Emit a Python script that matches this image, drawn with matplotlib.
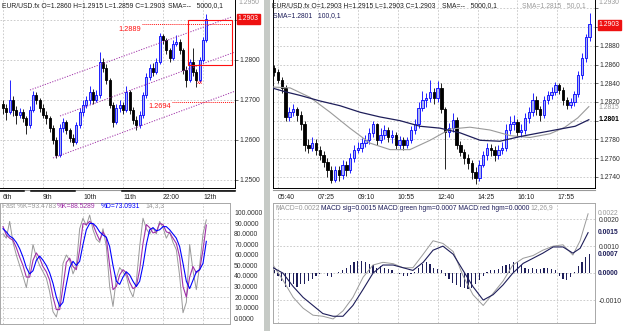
import numpy as np
import matplotlib
matplotlib.use("Agg")
import matplotlib.pyplot as plt
from matplotlib.patches import Rectangle
from matplotlib.lines import Line2D
import matplotlib.transforms as mtransforms

plt.rcParams['font.family'] = ['Liberation Sans', 'DejaVu Sans']
plt.rcParams['font.size'] = 4.9

# ---------------- left chart : hourly EUR/USD + stochastic ----------------
left_first_open = 1.2690
left_close = [1.2680, 1.2670, 1.2700, 1.2675, 1.2663, 1.2670, 1.2655, 1.2638, 1.2675, 1.2713,
              1.2700, 1.2680, 1.2663, 1.2655, 1.2630, 1.2600, 1.2563, 1.2630, 1.2645, 1.2625,
              1.2605, 1.2595, 1.2638, 1.2670, 1.2688, 1.2700, 1.2720, 1.2700, 1.2713, 1.2795,
              1.2780, 1.2750, 1.2688, 1.2645, 1.2680, 1.2688, 1.2675, 1.2720, 1.2675, 1.2650,
              1.2638, 1.2663, 1.2713, 1.2758, 1.2780, 1.2770, 1.2795, 1.2860, 1.2850, 1.2825,
              1.2805, 1.2840, 1.2845, 1.2825, 1.2775, 1.2750, 1.2795, 1.2770, 1.2750, 1.2800,
              1.2850, 1.2903]
left_high = [1.2700, 1.2690, 1.2750, 1.2710, 1.2685, 1.2680, 1.2678, 1.2660, 1.2685, 1.2722,
             1.2720, 1.2705, 1.2690, 1.2672, 1.2660, 1.2638, 1.2608, 1.2640, 1.2655, 1.2650,
             1.2630, 1.2615, 1.2645, 1.2680, 1.2700, 1.2710, 1.2735, 1.2728, 1.2725, 1.2820,
             1.2805, 1.2790, 1.2755, 1.2695, 1.2690, 1.2700, 1.2695, 1.2735, 1.2725, 1.2682,
             1.2660, 1.2672, 1.2720, 1.2768, 1.2790, 1.2792, 1.2805, 1.2868, 1.2866, 1.2855,
             1.2830, 1.2850, 1.2862, 1.2852, 1.2830, 1.2785, 1.2802, 1.2830, 1.2778, 1.2808,
             1.2858, 1.2915]
left_low = [1.2665, 1.2650, 1.2665, 1.2660, 1.2640, 1.2655, 1.2645, 1.2615, 1.2630, 1.2670,
            1.2690, 1.2670, 1.2655, 1.2640, 1.2620, 1.2590, 1.2555, 1.2558, 1.2620, 1.2615,
            1.2595, 1.2585, 1.2590, 1.2630, 1.2660, 1.2680, 1.2690, 1.2690, 1.2695, 1.2705,
            1.2770, 1.2740, 1.2680, 1.2632, 1.2640, 1.2670, 1.2665, 1.2670, 1.2665, 1.2640,
            1.2625, 1.2630, 1.2655, 1.2705, 1.2750, 1.2760, 1.2765, 1.2790, 1.2840, 1.2815,
            1.2795, 1.2800, 1.2835, 1.2815, 1.2765, 1.2733, 1.2745, 1.2760, 1.2733, 1.2745,
            1.2795, 1.2845]
left_ticks = [0, 12, 24, 36, 48, 60]
left_ticklabels = ['6th', '9th', '10th', '11th', '22:00', '12th']
left_price_ticks = [1.25, 1.26, 1.27, 1.28, 1.29]

# trend channel (start index, start price, end index, end price)
channel_lines = [(8.1, 1.2725, 68.7, 1.2908),
                 (17.1, 1.2660, 69.6, 1.2820),
                 (15.0, 1.2555, 69.6, 1.2722)]
level_lines = [(1.2889, 41.7, '1.2889'), (1.2696, 50.7, '1.2694')]
box_x = (55.5, 68.7)
box_y = (1.27875, 1.2900)

stoch_fast = [80, 76, 92, 72, 60, 50, 40, 29, 48, 70, 58, 50, 44, 38, 25, 6, 1, 15, 52, 60,
              55, 42, 50, 85, 95, 88, 98, 84, 75, 72, 85, 68, 30, 11, 38, 48, 44, 40, 27, 20,
              35, 68, 95, 85, 80, 86, 80, 92, 86, 76, 82, 72, 65, 40, 5, 15, 70, 45, 27, 50,
              80, 93.5]
stoch_k = [87, 79, 76, 74, 67, 58, 50, 39, 39, 55, 62, 57, 49, 44, 36, 20, 8, 8, 30, 53,
           57, 49, 46, 65, 90, 89, 92, 89, 81, 74, 82, 76, 50, 27, 30, 41, 46, 43, 34, 28,
           30, 46, 71, 89, 86, 81, 82, 90, 89, 82, 81, 76, 71, 58, 30, 20, 39, 49, 43, 46,
           65, 88.5]
stoch_d = [85, 82, 78, 76, 72, 66, 58, 48, 42, 45, 55, 59, 55, 50, 43, 33, 20, 11, 15, 32,
           48, 54, 50, 54, 70, 84, 90, 90, 87, 82, 79, 77, 68, 50, 35, 32, 39, 44, 41, 35,
           30, 35, 50, 70, 84, 86, 83, 84, 87, 87, 84, 80, 76, 68, 52, 35, 28, 36, 44, 46,
           52, 73]

# ---------------- right chart : intraday EUR/USD + MACD ----------------
right_first_open = 1.2856
right_close = [1.2852, 1.2844, 1.2835, 1.2804, 1.2809, 1.2812, 1.2806, 1.2796, 1.2774, 1.2771,
               1.2776, 1.2769, 1.2763, 1.2756, 1.2747, 1.2737, 1.2747, 1.2742, 1.2753, 1.2747,
               1.2760, 1.2769, 1.2771, 1.2776, 1.2779, 1.2787, 1.2796, 1.2779, 1.2785, 1.2790,
               1.2782, 1.2785, 1.2774, 1.2779, 1.2774, 1.2779, 1.2790, 1.2796, 1.2814, 1.2822,
               1.2824, 1.2831, 1.2824, 1.2835, 1.2812, 1.2788, 1.2792, 1.2801, 1.2774, 1.2767,
               1.2760, 1.2755, 1.2745, 1.2739, 1.2753, 1.2763, 1.2771, 1.2769, 1.2763, 1.2769,
               1.2771, 1.2790, 1.2796, 1.2799, 1.2788, 1.2790, 1.2803, 1.2809, 1.2822, 1.2812,
               1.2806, 1.2822, 1.2827, 1.2831, 1.2838, 1.2833, 1.2822, 1.2817, 1.2820, 1.2828,
               1.2849, 1.2867, 1.2889, 1.2903]
right_high = [1.2860, 1.2855, 1.2847, 1.2838, 1.2815, 1.2818, 1.2815, 1.2810, 1.2800, 1.2780,
              1.2782, 1.2780, 1.2773, 1.2768, 1.2760, 1.2752, 1.2752, 1.2751, 1.2758, 1.2757,
              1.2765, 1.2774, 1.2777, 1.2781, 1.2785, 1.2792, 1.2800, 1.2798, 1.2792, 1.2795,
              1.2793, 1.2790, 1.2788, 1.2784, 1.2782, 1.2783, 1.2794, 1.2802, 1.2820, 1.2832,
              1.2830, 1.2843, 1.2835, 1.2842, 1.2840, 1.2815, 1.2798, 1.2808, 1.2804, 1.2778,
              1.2770, 1.2764, 1.2758, 1.2750, 1.2758, 1.2768, 1.2776, 1.2775, 1.2773, 1.2774,
              1.2777, 1.2796, 1.2805, 1.2806, 1.2802, 1.2796, 1.2808, 1.2815, 1.2830, 1.2826,
              1.2816, 1.2826, 1.2832, 1.2836, 1.2841, 1.2840, 1.2836, 1.2825, 1.2824, 1.2832,
              1.2853, 1.2872, 1.2893, 1.2915]
right_low = [1.2848, 1.2840, 1.2830, 1.2800, 1.2800, 1.2805, 1.2800, 1.2790, 1.2768, 1.2765,
             1.2768, 1.2763, 1.2758, 1.2750, 1.2740, 1.2733, 1.2734, 1.2736, 1.2738, 1.2741,
             1.2744, 1.2756, 1.2765, 1.2767, 1.2772, 1.2775, 1.2783, 1.2774, 1.2776, 1.2780,
             1.2777, 1.2776, 1.2770, 1.2770, 1.2769, 1.2771, 1.2776, 1.2786, 1.2792, 1.2810,
             1.2815, 1.2820, 1.2818, 1.2820, 1.2808, 1.2748, 1.2782, 1.2788, 1.2770, 1.2762,
             1.2754, 1.2748, 1.2738, 1.2732, 1.2736, 1.2750, 1.2758, 1.2762, 1.2757, 1.2759,
             1.2764, 1.2768, 1.2786, 1.2790, 1.2782, 1.2783, 1.2786, 1.2798, 1.2805, 1.2806,
             1.2800, 1.2803, 1.2818, 1.2823, 1.2827, 1.2828, 1.2817, 1.2812, 1.2813, 1.2816,
             1.2825, 1.2845, 1.2863, 1.2885]
right_hist = [1, -1, -3, -5, -5, -4, -5, -4, -4, -3, -2, -1, -0.5, 0, -1, -1.5, 0, 0.5, 1, 2,
              3, 4, 4.5, 4.5, 4, 3.5, 3, 2, 2.5, 2, 1.5, 1, 0, -0.5, -1, -1, -0.5, 0.5, 2, 3.5,
              4, 3.5, 2, 1.5, 1, -1, -2, -3.5, -4.5, -5, -5.5, -6, -5.5, -4, -2.5, -1, 0.5, 1, 1, 1.5,
              2.5, 3, 3.5, 4, 4, 3, 2, 1.5, 2, 1.5, 1.5, 2, 2, 1.5, 1, -1, -2, -2.5, -1.5, 0.5,
              2.5, 4, 6, 7]  # x 1e-4
right_ticks = [340, 445, 550, 655, 760, 865, 970, 1075]  # minutes after midnight
right_ticklabels = ['05:40', '07:25', '09:10', '10:55', '12:40', '14:25', '16:10', '17:55']

sma50_t = [324, 372, 424, 477, 529, 582, 635, 687, 740, 793, 845, 898, 951, 1003, 1056, 1095, 1129, 1158]
sma50 = [1.2836, 1.2835, 1.2825, 1.2809, 1.2792, 1.2776, 1.2769, 1.2769, 1.2779, 1.2791,
         1.2793, 1.2790, 1.2784, 1.2782, 1.2786, 1.2793, 1.2803, 1.2815]
sma100_t = [324, 358, 398, 451, 503, 556, 608, 661, 714, 766, 819, 872, 924, 977, 1029, 1082, 1122, 1158]
sma100 = [1.2835, 1.2831, 1.2827, 1.2821, 1.2816, 1.2809, 1.2804, 1.2800, 1.2794, 1.2792,
          1.2787, 1.2779, 1.2778, 1.2783, 1.2787, 1.2791, 1.2794, 1.2801]

macd_t = [327, 353, 380, 406, 432, 458, 485, 511, 537, 564, 590, 616, 643, 669, 695, 722, 748,
          774, 801, 827, 853, 880, 906, 932, 958, 985, 1011, 1037, 1064, 1090, 1116, 1135, 1156]
macd_line = [3, -2.6, -9, -13, -15.6, -16, -17, -14, -9, -1.5, 3, 4, 3.5, 2, 2, 7, 12,
             11, 8, -1, -8, -12, -7.5, -3, 3, 5.5, 6.5, 8.5, 10, 10.5, 6.7, 12, 22]  # x 1e-4
macd_sig = [2, 0, -5, -9, -12, -15, -16, -16, -12, -6, 0, 3, 3, 2, 1, 4, 8.5,
            10, 7, 1, -5, -10, -8, -4.4, 0, 3.6, 5.5, 7.4, 9.7, 9.7, 7.4, 9.2, 15]  # x 1e-4

# ---------------- colours ----------------
UP_EDGE = '#0000ff'
UP_FACE = '#aab2f2'
NAVY = '#1e1e5a'
GRAY = '#9a9a9a'
PURPLE = '#a030a8'
RED = '#ff1010'
GRID = '#c4c4c4'

W, H = 625, 331
fig = plt.figure(figsize=(W / 100, H / 100), dpi=100)
fig.patch.set_facecolor('white')


def px_axes(x0, y0, x1, y1):
    return fig.add_axes([x0 / W, 1 - y1 / H, (x1 - x0) / W, (y1 - y0) / H])


def ftext(x, y, s, **kw):
    kw.setdefault('color', '#202020')
    fig.text(x / W, 1 - y / H, s, ha='left', va='center', **kw)


def fline(x0, x1, y, **kw):
    fig.add_artist(Line2D([x0 / W, x1 / W], [1 - y / H, 1 - y / H], transform=fig.transFigure, **kw))


def candles(ax, x, first_open, close, high, low, width):
    x = np.asarray(x, dtype=float)
    c = np.asarray(close)
    o = np.concatenate([[first_open], c[:-1]])
    up = c >= o
    ax.vlines(x[up], np.asarray(low)[up], np.asarray(high)[up], color=UP_EDGE, lw=0.6, zorder=3)
    ax.vlines(x[~up], np.asarray(low)[~up], np.asarray(high)[~up], color='black', lw=0.6, zorder=3)
    ax.bar(x[up], (c - o)[up], bottom=o[up], width=width, color=UP_FACE,
           edgecolor=UP_EDGE, linewidth=0.6, zorder=4)
    ax.bar(x[~up], (o - c)[~up], bottom=c[~up], width=width, color='black',
           edgecolor='black', linewidth=0.6, zorder=4)


def base_style(ax, spine_color):
    ax.set_facecolor('white')
    ax.grid(True, color=GRID, ls=(0, (2, 2)), lw=0.6)
    ax.set_axisbelow(True)
    ax.yaxis.tick_right()
    ax.tick_params(axis='y', length=2, width=0.5, pad=1.5, labelsize=4.9, colors='#303030')
    ax.tick_params(axis='x', length=0, pad=4.5, labelsize=4.9, colors='#202020')
    for s in ax.spines.values():
        s.set_color(spine_color)
        s.set_linewidth(0.7)


def left_align(ax):
    for lab in ax.get_xticklabels():
        lab.set_ha('left')


# ---------- left price ----------
axL = px_axes(0, 0, 235, 188)
base_style(axL, 'black')
axL.spines['top'].set_visible(False)
axL.spines['left'].set_visible(False)
xi = np.arange(len(left_close))
candles(axL, xi, left_first_open, left_close, left_high, left_low, 0.62)
axL.set_xlim(-0.9, 69.6)
axL.set_ylim(1.2480, 1.2950)
axL.set_yticks(left_price_ticks)
axL.set_yticklabels(['%.4f' % v if v < 1.285 else '' for v in left_price_ticks])
axL.set_xticks(left_ticks)
axL.set_xticklabels(left_ticklabels)
left_align(axL)

for x0, p0, x1, p1 in channel_lines:
    axL.plot([x0, x1], [p0, p1], color=PURPLE, lw=0.7, ls=(0, (1.2, 1.5)), zorder=5)
for price, start, lab in level_lines:
    axL.plot([start, 69.0], [price, price], color=RED, lw=0.7, ls=(0, (1, 1)), zorder=5)
    axL.text(start - 0.4, price - 0.0012, lab, color=RED, fontsize=5.3, ha='right', va='center', zorder=6)
axL.add_patch(Rectangle((box_x[0], box_y[0]), box_x[1] - box_x[0], box_y[1] - box_y[0],
                        fill=False, edgecolor=RED, lw=0.8, zorder=6))
axL.text(59.1, 1.2745, 'xx', color=RED, fontsize=4.5, ha='center', va='center', zorder=6)
trL = mtransforms.blended_transform_factory(axL.transAxes, axL.transData)
axL.text(1.012, left_close[-1], '%.4f' % left_close[-1], transform=trL, color='white', fontsize=4.9,
         ha='left', va='center', bbox=dict(facecolor='#ee1111', edgecolor='#ee1111', pad=0.9))

# ---------- stochastic ----------
axS = px_axes(0, 203, 230, 324)
base_style(axS, '#a8a8a8')
axS.plot(xi, stoch_fast, color=GRAY, lw=0.7)
axS.plot(xi, stoch_k, color=PURPLE, lw=0.8)
axS.plot(xi, stoch_d, color=UP_EDGE, lw=0.8)
axS.set_xlim(-0.9, 68.1)
axS.set_ylim(-5.7, 109.5)
axS.set_yticks(np.arange(0, 101, 10))
axS.set_yticklabels(['%.4f' % v for v in np.arange(0, 101, 10)])
axS.set_xticks(left_ticks)
axS.set_xticklabels([])
axS.tick_params(axis='y', length=0, pad=3)

# ---------- right price ----------
axR = px_axes(273, 0, 595, 188)
base_style(axR, 'black')
axR.spines['top'].set_visible(False)
tr = np.arange(330, 1170, 10)
candles(axR, tr, right_first_open, right_close, right_high, right_low, 6.2)
axR.plot(sma50_t, sma50, color=GRAY, lw=0.8, zorder=5)
axR.plot(sma100_t, sma100, color=NAVY, lw=0.9, zorder=5)
axR.set_xlim(326.8, 1174.2)
axR.set_ylim(1.2728, 1.2929)
rticks = [1.274, 1.276, 1.278, 1.280, 1.282, 1.284, 1.286, 1.288, 1.290, 1.292]
axR.set_yticks(rticks)
axR.set_yticklabels(['' if v in (1.280, 1.290, 1.292) else '%.4f' % v for v in rticks])
axR.set_xticks(right_ticks)
axR.set_xticklabels(right_ticklabels)
left_align(axR)
trR = mtransforms.blended_transform_factory(axR.transAxes, axR.transData)
axR.text(1.012, right_close[-1] - 0.00005, '%.4f' % right_close[-1], transform=trR, color='white',
         fontsize=4.9, ha='left', va='center',
         bbox=dict(facecolor='#ee1111', edgecolor='#ee1111', pad=0.9))
axR.text(1.012, sma50[-1] - 0.0001, '%.4f' % sma50[-1], transform=trR, color=GRAY, fontsize=4.9,
         ha='left', va='center')
axR.text(1.012, sma100[-1], '%.4f' % sma100[-1], transform=trR, color='black', fontsize=4.9,
         weight='bold', ha='left', va='center')

# ---------- MACD ----------
axM = px_axes(273, 203, 595, 323)
base_style(axM, '#a8a8a8')
axM.bar(tr, np.array(right_hist) * 1e-4, width=3.6, color=NAVY, zorder=3)
axM.plot(macd_t, np.array(macd_line) * 1e-4, color=GRAY, lw=0.7, zorder=4)
axM.plot(macd_t, np.array(macd_sig) * 1e-4, color=NAVY, lw=0.8, zorder=4)
axM.set_xlim(326.8, 1174.2)
axM.set_ylim(-0.00185, 0.0026)
axM.set_yticks([-0.001, 0.0, 0.001, 0.002])
axM.set_yticklabels(['-0.0010', '', '0.0010', '0.0020'])
axM.tick_params(axis='y', length=0, pad=3)
axM.set_xticks(right_ticks)
axM.set_xticklabels([])
trM = mtransforms.blended_transform_factory(axM.transAxes, axM.transData)
for val, col, wt in [(0.0022, GRAY, 'normal'), (0.0015, NAVY, 'bold'),
                     (0.0007, NAVY, 'bold'), (0.0, NAVY, 'bold')]:
    axM.text(1.01, val, '%.4f' % val, transform=trM, color=col, weight=wt, fontsize=4.9,
             ha='left', va='center')

# ---------- headers ----------
ftext(2, 6, 'EUR/USD.fx O=1.2860 H=1.2915 L=1.2859 C=1.2903')
ftext(168, 6, 'SMA=--   5000,0,1')
ftext(272, 6, 'EUR/USD.fx O=1.2903 H=1.2915 L=1.2903 C=1.2903')
ftext(442, 6, 'SMA=--   5000,0,1')
ftext(522, 6, 'SMA=1.2815   50,0,1', color=GRAY)
ftext(273, 16, 'SMA=1.2801   100,0,1', color=NAVY)
ftext(2, 206, 'Fast %K=93.4783', color=GRAY)
ftext(57, 206, '%K=88.5289', color=PURPLE)
ftext(101, 206, '%D=73.0931', color=UP_EDGE)
ftext(145, 206, '14,3,3', color=GRAY)
ftext(275, 208, 'MACD=0.0022', color=GRAY)
ftext(321, 208, 'MACD sig=0.0015 MACD green hgm=0.0007 MACD red hgm=0.0000', color=NAVY)
ftext(530, 208, '12,26,9', color=GRAY)
ftext(238, 3, '1.2950', color=GRAY)
ftext(598, 3, '1.2930', color=GRAY)

# ---------- frame decorations ----------
fig.add_artist(Rectangle((264 / W, 0), 6 / W, 1, transform=fig.transFigure,
                         facecolor='#c6cac6', edgecolor='none'))
fline(0, 235, 190, color='#9a9a9a', lw=0.8)
fline(273, 595, 190, color='#9a9a9a', lw=0.8)
for a, b in [(0, 24), (31, 75), (122, 235)]:
    fline(a, b, 191.2, color='black', lw=1.1)

fig.savefig('out.png', dpi=100, facecolor='white')
